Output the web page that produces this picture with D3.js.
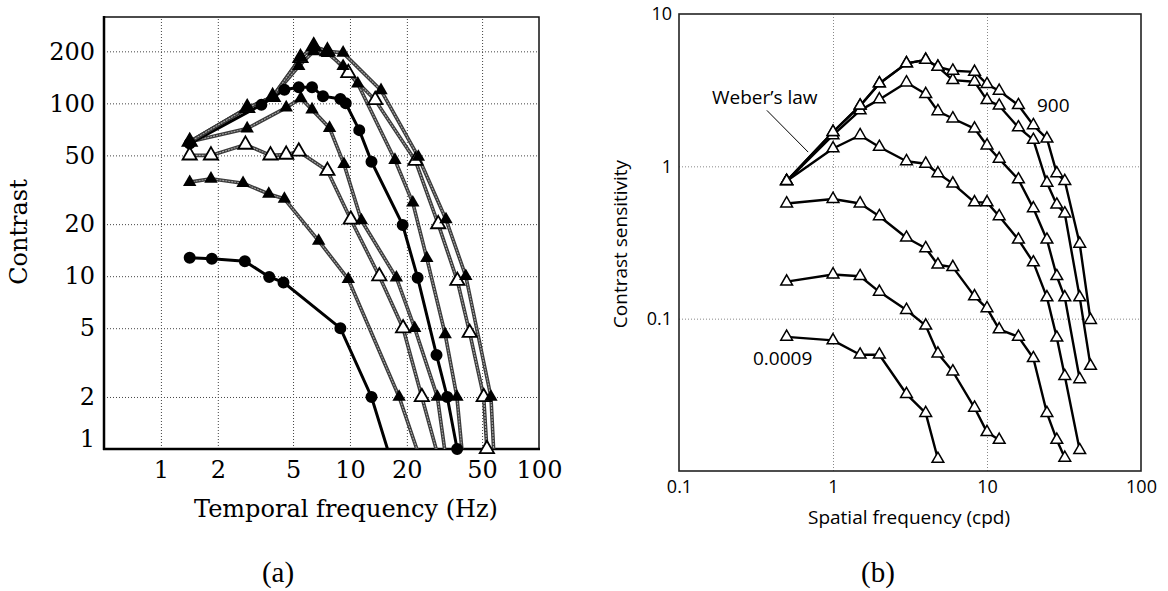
<!DOCTYPE html>
<html>
<head>
<meta charset="utf-8">
<script src="https://cdn.jsdelivr.net/npm/d3@7"></script>
<style>
  body { margin: 0; background: #fff; }
</style>
</head>
<body>
<div id="chart"></div>
<script>
// ---------- panel (a): temporal contrast ----------
const tempTickX = [1, 2, 5, 10, 20, 50, 100];
const tempTickY = [1, 2, 5, 10, 20, 50, 100, 200];
const tempGridX = [1, 2, 5, 10, 20, 50];
const tempGridY = [2, 5, 10, 20, 50, 100, 200];

const c1Freq = [1.42, 1.86, 2.78, 3.74, 4.45, 8.9, 13, 19.2];
const c1Con  = [12.8, 12.6, 12.2, 9.9, 9.2, 5, 2, 0.5];
const c2Freq = [1.42, 1.84, 2.72, 3.72, 4.5, 6.83, 9.8, 18.2, 28];
const c2Con  = [35, 36.6, 34.5, 29.9, 28, 16, 9.6, 2, 0.5];
const c3Freq = [1.42, 1.84, 2.8, 3.8, 4.6, 5.36, 7.6, 10.1, 14.3, 19.1, 24, 34];
const c3Con  = [50, 50, 57.7, 50, 50.5, 52.7, 40.7, 21.3, 10, 5, 2, 0.5];
const c4Freq = [1.42, 2.86, 4.6, 5.5, 6.3, 7.8, 9.3, 11.5, 17.6, 22, 29, 34.6];
const c4Con  = [60, 71.5, 94.5, 107, 92, 72, 44.5, 21, 9.8, 5, 2, 0.5];
const c5Freq = [1.42, 3.4, 4.5, 5.36, 6.3, 7.2, 8.9, 9.5, 11.2, 13, 19, 22.8, 28.7, 32.7, 36.9];
const c5Con  = [58.5, 98, 120, 124, 124, 110, 106, 100, 70, 46, 19.8, 9.8, 3.5, 2, 1];
const c6Freq = [1.42, 2.86, 3.9, 5.36, 6.43, 7.6, 9.2, 11, 17.3, 21.5, 25.5, 31.9, 36.8, 41.5];
const c6Con  = [60, 94, 109, 164, 200, 195, 164, 130, 47, 26.6, 12.7, 4.6, 2, 0.5];
const c7Freq = [1.42, 2.86, 3.9, 5.47, 6.43, 7.6, 9.8, 13.6, 22.2, 29.3, 37, 43, 51, 53];
const c7Con  = [60, 94, 109, 183, 214, 200, 150, 104.5, 46.5, 20, 9.4, 4.7, 2, 1];
const c8Freq = [1.42, 2.86, 3.9, 5.47, 6.43, 7.6, 9.2, 14.6, 23, 32.2, 41, 55.7, 59.4];
const c8Con  = [60, 94, 109, 183, 214, 200, 196, 119, 49, 21.3, 10, 2, 0.5];

// ---------- panel (b): spatial contrast sensitivity ----------
const spatTickX = [0.1, 1, 10, 100];
const spatTickY = [0.1, 1, 10];
const spatGridX = [1, 10];
const spatGridY = [0.1, 1];
const spatFreq = [0.5, 1, 1.5, 2, 3, 4, 4.8, 6, 8.3, 10, 12, 16, 20, 24.5, 28.4, 32, 40, 47];
const sens900   = [0.8, 1.68, 2.5, 3.5, 4.74, 5.0, 4.5, 4.24, 4.17, 3.46, 3.13, 2.52, 1.86, 1.52, 0.9, 0.8, 0.31, 0.098];
const sens90    = [0.8, 1.68, 2.5, 3.5, 4.74, 5.0, 4.5, 3.68, 3.59, 2.72, 2.5, 1.8, 1.49, 0.78, 0.56, 0.49, 0.138, 0.049];
const sens9     = [0.8, 1.6, 2.33, 2.75, 3.55, 2.98, 2.3, 2.06, 1.77, 1.37, 1.12, 0.82, 0.53, 0.33, 0.19, 0.138, 0.04, null];
const sens09    = [0.8, 1.31, 1.6, 1.34, 1.08, 1.04, 0.9, 0.77, 0.58, 0.58, 0.47, 0.33, 0.234, 0.138, 0.075, 0.042, 0.0137, null];
const sens009   = [0.57, 0.61, 0.57, 0.47, 0.34, 0.29, 0.226, 0.218, 0.14, 0.117, 0.085, 0.076, 0.055, 0.024, 0.016, 0.0122, null, null];
const sens0009  = [0.175, 0.195, 0.19, 0.15, 0.114, 0.09, 0.059, 0.045, 0.026, 0.018, 0.016, null, null, null, null, null, null, null];
const sens00009 = [0.076, 0.072, 0.058, 0.058, 0.032, 0.024, 0.012, null, null, null, null, null, null, null, null, null, null, null];

const W = 1168, H = 591;
const svg = d3.select("#chart").append("svg")
  .attr("width", W).attr("height", H)
  .style("background", "#fff");

const zip = (xs, ys) => xs.map((x, i) => ({ x: x, y: ys[i] })).filter(d => d.y != null);

// ================= panel (a) =================
const xA = d3.scaleLog().domain([0.5, 100]).range([104, 539]);
const yA = d3.scaleLog().domain([1, 316]).range([449, 17]);
const serif = '"DejaVu Serif", serif';

const gA = svg.append("g");
const defs = svg.append("defs");
defs.append("clipPath").attr("id", "clipA").append("rect")
  .attr("x", 104).attr("y", 17).attr("width", 435).attr("height", 432);
defs.append("clipPath").attr("id", "clipAm").append("rect")
  .attr("x", 96).attr("y", 9).attr("width", 451).attr("height", 448);

//grid
gA.append("g")
  .attr("transform", "translate(0,449)")
  .call(d3.axisBottom(xA).tickValues(tempGridX).tickSize(-432).tickFormat(""))
  .call(g => g.select(".domain").remove())
  .selectAll("line").attr("stroke", "#444").attr("stroke-width", 1).attr("stroke-dasharray", "1,2");
gA.append("g")
  .attr("transform", "translate(104,0)")
  .call(d3.axisLeft(yA).tickValues(tempGridY).tickSize(-435).tickFormat(""))
  .call(g => g.select(".domain").remove())
  .selectAll("line").attr("stroke", "#444").attr("stroke-width", 1).attr("stroke-dasharray", "1,2");

//frame
gA.append("rect").attr("x", 104).attr("y", 17).attr("width", 435).attr("height", 432)
  .attr("fill", "none").attr("stroke", "#111").attr("stroke-width", 1.5);
gA.append("line").attr("x1", 104).attr("x2", 104).attr("y1", 16).attr("y2", 450)
  .attr("stroke", "#000").attr("stroke-width", 2.5);
gA.append("line").attr("x1", 103).attr("x2", 540).attr("y1", 449).attr("y2", 449)
  .attr("stroke", "#000").attr("stroke-width", 2.5);

//tick labels
const axXA = gA.append("g")
  .attr("transform", "translate(0,449)")
  .call(d3.axisBottom(xA).tickValues(tempTickX).tickSize(0).tickPadding(12).tickFormat(d3.format("d")));
axXA.select(".domain").remove();
axXA.attr("font-family", serif).attr("font-size", 24);
axXA.selectAll("text").attr("fill", "#000");

const axYA = gA.append("g")
  .attr("transform", "translate(104,0)")
  .call(d3.axisLeft(yA).tickValues(tempTickY).tickSize(0).tickPadding(9).tickFormat(d3.format("d")));
axYA.select(".domain").remove();
axYA.attr("font-family", serif).attr("font-size", 24);
axYA.selectAll("text").attr("fill", "#000");
axYA.selectAll(".tick").filter(d => d === 1).select("text").attr("dy", "-0.1em");

gA.append("text")
  .attr("transform", "translate(27,232) rotate(-90)")
  .attr("text-anchor", "middle")
  .attr("font-family", serif).attr("font-size", 24)
  .text("Contrast");
gA.append("text")
  .attr("x", 346).attr("y", 517)
  .attr("text-anchor", "middle")
  .attr("font-family", serif).attr("font-size", 24)
  .text("Temporal frequency (Hz)");
gA.append("text")
  .attr("x", 278).attr("y", 582)
  .attr("text-anchor", "middle")
  .attr("font-family", '"Liberation Serif", serif').attr("font-size", 29)
  .text("(a)");

//curves
const curvesA = [
  { pts: zip(c3Freq, c3Con), mark: "open" },
  { pts: zip(c7Freq, c7Con), mark: "open" },
  { pts: zip(c1Freq, c1Con), mark: "dot" },
  { pts: zip(c2Freq, c2Con), mark: "tri" },
  { pts: zip(c4Freq, c4Con), mark: "tri" },
  { pts: zip(c5Freq, c5Con), mark: "dot" },
  { pts: zip(c6Freq, c6Con), mark: "tri" },
  { pts: zip(c8Freq, c8Con), mark: "tri" },
];

const lineA = d3.line().x(d => xA(d.x)).y(d => yA(d.y));
const linesA = gA.append("g").attr("clip-path", "url(#clipA)");
curvesA.forEach(c => {
  if (c.mark === "dot") {
    linesA.append("path").attr("d", lineA(c.pts))
      .attr("fill", "none").attr("stroke", "#000").attr("stroke-width", 3);
  } else {
    linesA.append("path").attr("d", lineA(c.pts))
      .attr("fill", "none").attr("stroke", "#3a3a3a").attr("stroke-width", 3.6);
    linesA.append("path").attr("d", lineA(c.pts))
      .attr("fill", "none").attr("stroke", "#a8a8a8").attr("stroke-width", 1.1)
      .attr("stroke-dasharray", "2,1");
  }
});

const marksA = gA.append("g").attr("clip-path", "url(#clipAm)");
curvesA.forEach(c => {
  const sel = marksA.append("g").selectAll("path").data(c.pts).join("path")
    .attr("transform", d => `translate(${xA(d.x)},${yA(d.y)})`);
  if (c.mark === "dot") {
    sel.attr("d", d3.symbol(d3.symbolCircle, 113)()).attr("fill", "#000");
  } else if (c.mark === "tri") {
    sel.attr("d", d3.symbol(d3.symbolTriangle, 78)()).attr("fill", "#000");
  } else {
    sel.attr("d", d3.symbol(d3.symbolTriangle, 88)())
      .attr("fill", "#fff").attr("stroke", "#000").attr("stroke-width", 1.8);
  }
});

// ================= panel (b) =================
const xB = d3.scaleLog().domain([0.1, 100]).range([679, 1141]);
const yB = d3.scaleLog().domain([0.01, 10]).range([471, 14]);
const sans = '"Open Sans", sans-serif';

const gB = svg.append("g");

gB.append("g")
  .attr("transform", "translate(0,471)")
  .call(d3.axisBottom(xB).tickValues(spatGridX).tickSize(-457).tickFormat(""))
  .call(g => g.select(".domain").remove())
  .selectAll("line").attr("stroke", "#888").attr("stroke-width", 1).attr("stroke-dasharray", "1,2");
gB.append("g")
  .attr("transform", "translate(679,0)")
  .call(d3.axisLeft(yB).tickValues(spatGridY).tickSize(-462).tickFormat(""))
  .call(g => g.select(".domain").remove())
  .selectAll("line").attr("stroke", "#888").attr("stroke-width", 1).attr("stroke-dasharray", "1,2");

gB.append("rect").attr("x", 679).attr("y", 14).attr("width", 462).attr("height", 457)
  .attr("fill", "none").attr("stroke", "#222").attr("stroke-width", 1.6);

const axXB = gB.append("g")
  .attr("transform", "translate(0,471)")
  .call(d3.axisBottom(xB).tickValues(spatTickX).tickSize(0).tickPadding(9).tickFormat(d => String(d)));
axXB.select(".domain").remove();
axXB.attr("font-family", sans).attr("font-size", 18);
axXB.selectAll("text").attr("fill", "#000");

const axYB = gB.append("g")
  .attr("transform", "translate(679,0)")
  .call(d3.axisLeft(yB).tickValues(spatTickY).tickSize(0).tickPadding(7).tickFormat(d => String(d)));
axYB.select(".domain").remove();
axYB.attr("font-family", sans).attr("font-size", 18);
axYB.selectAll("text").attr("fill", "#000");

gB.append("text")
  .attr("transform", "translate(627,244) rotate(-90)")
  .attr("text-anchor", "middle")
  .attr("font-family", sans).attr("font-size", 19)
  .text("Contrast sensitivity");
gB.append("text")
  .attr("x", 909).attr("y", 524)
  .attr("text-anchor", "middle")
  .attr("font-family", sans).attr("font-size", 19)
  .text("Spatial frequency (cpd)");
gB.append("text")
  .attr("x", 878).attr("y", 582)
  .attr("text-anchor", "middle")
  .attr("font-family", '"Liberation Serif", serif').attr("font-size", 29)
  .text("(b)");

//annotations
gB.append("text").attr("x", 712).attr("y", 104)
  .attr("font-family", sans).attr("font-size", 19).text("Weber\u2019s law");
gB.append("line")
  .attr("x1", xB(0.372)).attr("y1", yB(2.33))
  .attr("x2", xB(0.69)).attr("y2", yB(1.24))
  .attr("stroke", "#000").attr("stroke-width", 1);
gB.append("text").attr("x", 1037).attr("y", 112)
  .attr("font-family", sans).attr("font-size", 19).text("900");
gB.append("text").attr("x", 753).attr("y", 365)
  .attr("font-family", sans).attr("font-size", 19).text("0.0009");

const curvesB = [sens00009, sens0009, sens009, sens09, sens9, sens90, sens900]
  .map(s => zip(spatFreq, s));

const lineB = d3.line().x(d => xB(d.x)).y(d => yB(d.y));
curvesB.forEach(pts => {
  gB.append("path").attr("d", lineB(pts))
    .attr("fill", "none").attr("stroke", "#000").attr("stroke-width", 2.4)
    .attr("stroke-linejoin", "round");
});
curvesB.forEach(pts => {
  gB.append("g").selectAll("path").data(pts).join("path")
    .attr("transform", d => `translate(${xB(d.x)},${yB(d.y)})`)
    .attr("d", d3.symbol(d3.symbolTriangle, 60)())
    .attr("fill", "#fff").attr("stroke", "#000").attr("stroke-width", 1.5);
});
</script>
</body>
</html>
